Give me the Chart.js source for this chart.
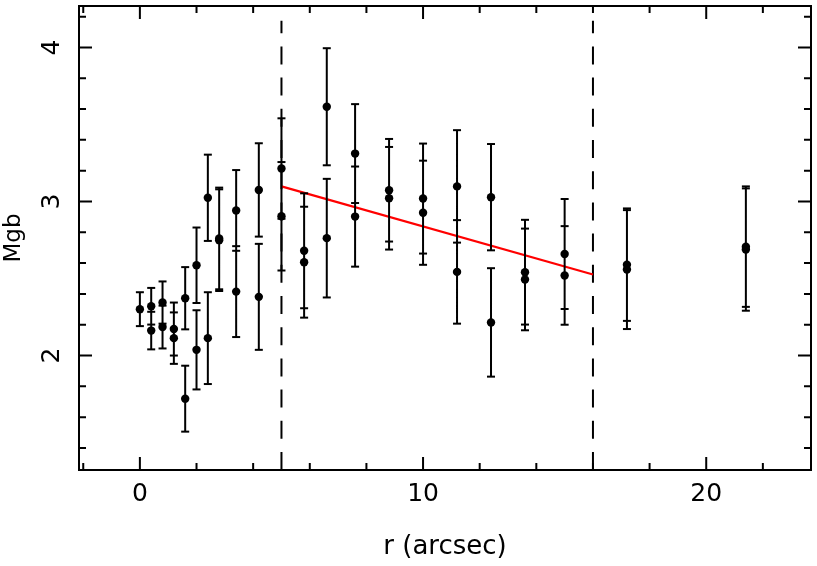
<!DOCTYPE html>
<html>
<head>
<meta charset="utf-8">
<script src="https://cdn.jsdelivr.net/npm/chart.js@4"></script>
<style>
  html, body { margin: 0; padding: 0; background: #fff; }
  #c { display: block; }
</style>
</head>
<body>
<canvas id="c" width="817" height="566"></canvas>
<script>
// ---- data ----
const radiusArcsec = [0.0, 0.4, 0.4, 0.8, 0.8, 1.2, 1.2, 1.6, 1.6, 2.0, 2.0, 2.4, 2.4, 2.8, 2.8,
  3.4, 3.4, 4.2, 4.2, 5.0, 5.0, 5.8, 5.8, 6.6, 6.6, 7.6, 7.6, 8.8, 8.8, 10.0, 10.0,
  11.2, 11.2, 12.4, 12.4, 13.6, 13.6, 15.0, 15.0, 17.2, 17.2, 21.4, 21.4];
const mgbValues = [2.301, 2.320, 2.162, 2.344, 2.185, 2.172, 2.113, 2.372, 1.720, 2.586, 2.037,
  3.024, 2.113, 2.760, 2.749, 2.942, 2.415, 3.075, 2.381, 3.214, 2.904, 2.680, 2.606,
  3.615, 2.762, 3.311, 2.902, 3.073, 3.021, 3.019, 2.927, 3.098, 2.543, 3.028, 2.215,
  2.541, 2.494, 2.659, 2.520, 2.590, 2.558, 2.707, 2.688];
const mgbErrors = [0.110, 0.119, 0.122, 0.137, 0.139, 0.172, 0.167, 0.202, 0.214, 0.245, 0.257,
  0.280, 0.298, 0.330, 0.330, 0.262, 0.295, 0.303, 0.344, 0.326, 0.352, 0.373, 0.360,
  0.380, 0.385, 0.321, 0.325, 0.333, 0.333, 0.357, 0.338, 0.365, 0.336, 0.345, 0.352,
  0.340, 0.330, 0.357, 0.320, 0.365, 0.386, 0.391, 0.397];
const fitRadius = [5, 16];
const fitMgb = [3.098, 2.526];
const boundaryRadius = [5, 16];
const boundaryTop = 4.173;
const xTickValues = [0, 10, 20];
const xTickLabels = ['0', '10', '20'];
const yTickValues = [2, 3, 4];
const yTickLabels = ['2', '3', '4'];

const X_MIN = -2.15, X_MAX = 23.7, Y_MIN = 1.257, Y_MAX = 4.269;
const FONT = '"DejaVu Sans", sans-serif';

// ---- build datasets ----
const points = radiusArcsec.map((r, i) => ({ x: r, y: mgbValues[i] }));
const errSegs = [];
radiusArcsec.forEach((r, i) => {
  errSegs.push({ x: r, y: mgbValues[i] - mgbErrors[i] });
  errSegs.push({ x: r, y: mgbValues[i] + mgbErrors[i] });
  errSegs.push({ x: r, y: null });
});
const fitLine = fitRadius.map((r, i) => ({ x: r, y: fitMgb[i] }));
const boundaryDatasets = boundaryRadius.map(r => ({
  type: 'line',
  data: [{ x: r, y: Y_MIN }, { x: r, y: boundaryTop }],
  borderColor: '#000',
  borderWidth: 2,
  borderDash: [18, 13.2],
  pointRadius: 0,
  fill: false,
  order: 4
}));

const framePlugin = {
  id: 'frame',
  afterDraw(chart) {
    const { ctx, chartArea: a, scales: { x, y } } = chart;
    ctx.save();
    ctx.strokeStyle = '#000';
    ctx.lineWidth = 2;
    ctx.lineCap = 'butt';
    ctx.strokeRect(a.left, a.top, a.right - a.left, a.bottom - a.top);
    ctx.beginPath();
    // x ticks every 2, major every 10
    for (let v = -2; v <= 22; v += 2) {
      const px = x.getPixelForValue(v);
      const len = (v % 10 === 0) ? 13 : 7;
      ctx.moveTo(px, a.bottom); ctx.lineTo(px, a.bottom - len);
      ctx.moveTo(px, a.top); ctx.lineTo(px, a.top + len);
    }
    // y ticks every 0.2, major every 1
    for (let k = 7; k <= 21; k++) {
      const v = k / 5;
      const py = y.getPixelForValue(v);
      const len = (k % 5 === 0) ? 13 : 7;
      ctx.moveTo(a.left, py); ctx.lineTo(a.left + len, py);
      ctx.moveTo(a.right, py); ctx.lineTo(a.right - len, py);
    }
    ctx.stroke();
    // rotated y tick labels
    ctx.fillStyle = '#000';
    ctx.font = '25px ' + FONT;
    ctx.textAlign = 'center';
    ctx.textBaseline = 'middle';
    yTickValues.forEach((v, i) => {
      ctx.save();
      ctx.translate(52, y.getPixelForValue(v));
      ctx.rotate(-Math.PI / 2);
      ctx.fillText(yTickLabels[i], 0, 0);
      ctx.restore();
    });
    ctx.restore();
  }
};

new Chart(document.getElementById('c'), {
  type: 'scatter',
  data: {
    datasets: [
      {
        type: 'scatter',
        data: points,
        pointRadius: 4.2,
        pointBackgroundColor: '#000',
        pointBorderColor: '#000',
        pointBorderWidth: 0,
        order: 1
      },
      {
        type: 'line',
        data: errSegs,
        borderColor: '#000',
        borderWidth: 2,
        spanGaps: false,
        pointStyle: 'line',
        pointRadius: 4,
        pointBorderColor: '#000',
        pointBorderWidth: 2,
        fill: false,
        order: 2
      },
      {
        type: 'line',
        data: fitLine,
        borderColor: '#ff0000',
        borderWidth: 2.2,
        pointRadius: 0,
        fill: false,
        order: 3
      },
      ...boundaryDatasets
    ]
  },
  options: {
    responsive: false,
    animation: false,
    devicePixelRatio: 1,
    layout: { padding: { left: 0, top: 2, right: 4, bottom: 0 } },
    plugins: { legend: { display: false }, tooltip: { enabled: false } },
    scales: {
      x: {
        type: 'linear',
        min: X_MIN, max: X_MAX,
        grid: { display: false, drawTicks: false },
        border: { display: false },
        afterBuildTicks: s => { s.ticks = xTickValues.map(v => ({ value: v })); },
        afterFit: s => { s.height = 96; },
        ticks: {
          color: '#000',
          font: { family: FONT, size: 25 },
          padding: 9,
          maxRotation: 0,
          callback: (v) => { const i = xTickValues.indexOf(v); return i >= 0 ? xTickLabels[i] : ''; }
        },
        title: {
          display: true,
          text: 'r (arcsec)',
          color: '#000',
          font: { family: FONT, size: 26 },
          padding: { top: 0, bottom: 3 }
        }
      },
      y: {
        type: 'linear',
        min: Y_MIN, max: Y_MAX,
        grid: { display: false, drawTicks: false },
        border: { display: false },
        afterFit: s => { s.width = 79; },
        ticks: { display: false },
        title: {
          display: true,
          text: 'Mgb',
          color: '#000',
          font: { family: FONT, size: 23 },
          padding: { top: 0, bottom: 0 }
        }
      }
    }
  },
  plugins: [framePlugin]
});
</script>
</body>
</html>
